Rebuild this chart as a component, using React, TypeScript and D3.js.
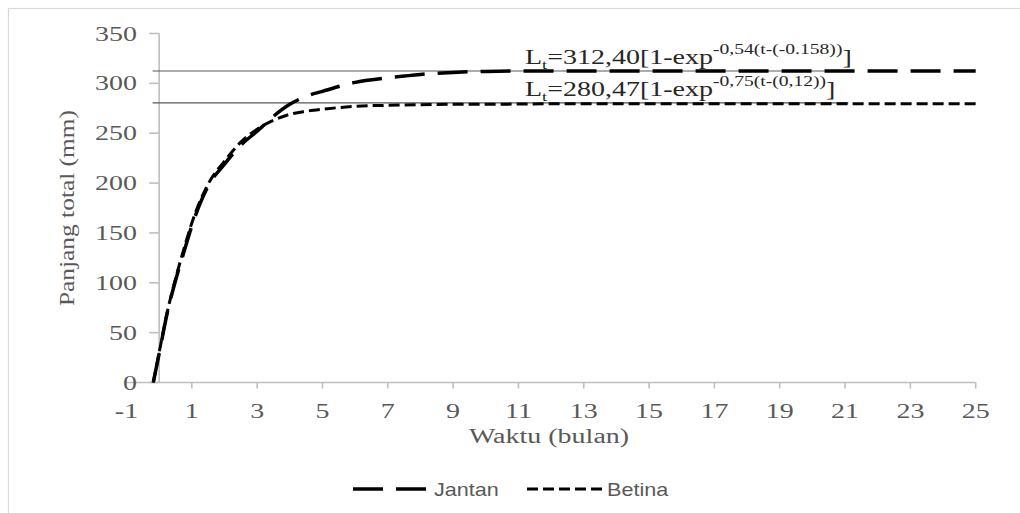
import * as d3 from 'd3'

// Growth curve readings (months vs total length, mm)
const MONTHS = [-0.18, 0, 0.25, 0.5, 0.75, 1, 1.5, 2, 2.5, 3, 3.5, 4, 4.5, 5, 6, 7, 8, 9, 10, 12, 15, 20, 25]
const JANTAN = [0, 29, 70, 102, 130, 157, 197, 219, 238, 252, 267, 279, 287, 292, 301, 305.5, 309, 311, 312, 312.5, 312.5, 312.5, 312.5]
const BETINA = [0, 30, 71, 104, 133, 160, 199, 222, 241, 254, 263, 269, 272, 274, 277, 278, 278.5, 279, 279, 279.5, 279.5, 279.5, 279.5]

const X_TICKS = [-1, 1, 3, 5, 7, 9, 11, 13, 15, 17, 19, 21, 23, 25]
const Y_TICKS = [0, 50, 100, 150, 200, 250, 300, 350]

// asymptote lines (L infinity) and their equations
const ASYMPTOTES = [312.4, 280.47]
const ASYM_FROM = -0.2
const ASYM_TO = 21.1
const EQ_MAIN = ['=312,40[1-exp', '=280,47[1-exp']
const EQ_EXP = ['-0,54(t-(-0.158))', '-0,75(t-(0,12))']
const EQ_START = 11.2

const SERIES = [
  { name: 'Jantan', values: JANTAN, dash: '30,13', width: 3.5 },
  { name: 'Betina', values: BETINA, dash: '11,5', width: 3 },
]

const SERIF = "'Liberation Serif', 'Times New Roman', serif"
const SANS = "'Liberation Sans', Arial, sans-serif"
const AXIS = '#bfbfbf'
const LABEL = '#595959'
const SX = 1.4 // wide serif rendering in the original

export default function App() {
  const x = d3.scaleLinear().domain([-1, 25]).range([126.5, 975.7])
  const y = d3.scaleLinear().domain([0, 350]).range([382.5, 33.5])

  const line = d3.line<number>()
    .x((_, i) => x(MONTHS[i]))
    .y(d => y(d))
    .curve(d3.curveMonotoneX)

  const legend = [
    { x1: 353, x2: 428, tx: 434 },
    { x1: 527, x2: 604, tx: 607 },
  ]

  return (
    <div style={{ position: 'absolute', left: 0, top: 0 }}>
      <svg width={1020} height={513} style={{ display: 'block', background: '#fff' }}>
        {/* chart border */}
        <rect x={8.5} y={8.5} width={1040} height={540} fill="none" stroke="#d9d9d9" strokeWidth={1.2} />

        {/* axes */}
        <line x1={x(0)} x2={x(0)} y1={y(0)} y2={y(350)} stroke={AXIS} strokeWidth={1.6} />
        <line x1={x(-1)} x2={x(25)} y1={y(0)} y2={y(0)} stroke={AXIS} strokeWidth={1.6} />
        {Y_TICKS.map(t => (
          <g key={'y' + t}>
            <line x1={x(0) - 10} x2={x(0)} y1={y(t)} y2={y(t)} stroke={AXIS} strokeWidth={1.6} />
            <text transform={`translate(137,${y(t) + 7}) scale(${SX},1)`} textAnchor="end"
              fontFamily={SERIF} fontSize={20} fill={LABEL}>{t}</text>
          </g>
        ))}
        {X_TICKS.map(t => (
          <g key={'x' + t}>
            {t > -1 && <line x1={x(t)} x2={x(t)} y1={y(0)} y2={y(0) + 6} stroke={AXIS} strokeWidth={1.6} />}
            <text transform={`translate(${x(t)},418) scale(${SX},1)`} textAnchor="middle"
              fontFamily={SERIF} fontSize={20} fill={LABEL}>{t}</text>
          </g>
        ))}

        {/* axis titles */}
        <text transform={`translate(549,443) scale(${SX},1)`} textAnchor="middle"
          fontFamily={SERIF} fontSize={20} fill={LABEL}>Waktu (bulan)</text>
        <text transform={`translate(74,208) rotate(-90) scale(1.27,1)`} textAnchor="middle"
          fontFamily={SERIF} fontSize={20} fill={LABEL}>Panjang total (mm)</text>

        {/* asymptotes */}
        {ASYMPTOTES.map(a => (
          <line key={'a' + a} x1={x(ASYM_FROM)} x2={x(ASYM_TO)} y1={y(a)} y2={y(a)}
            stroke="#595959" strokeWidth={1.2} />
        ))}

        {/* curves */}
        {SERIES.map(s => (
          <path key={s.name} d={line(s.values) ?? ''} fill="none" stroke="#000"
            strokeWidth={s.width} strokeDasharray={s.dash} />
        ))}

        {/* equations */}
        {ASYMPTOTES.map((a, i) => (
          <text key={'eq' + i} transform={`translate(${x(EQ_START)},${y(a) - 7}) scale(${SX},1)`}
            fontFamily={SERIF} fontSize={20} fill="#262626">
            <tspan>L</tspan>
            <tspan fontSize={13} dy={5}>t</tspan>
            <tspan dy={-5}>{EQ_MAIN[i]}</tspan>
            <tspan fontSize={14} dy={-10}>{EQ_EXP[i]}</tspan>
            <tspan dy={10}>]</tspan>
          </text>
        ))}

        {/* legend */}
        {SERIES.map((s, i) => (
          <g key={'lg' + s.name}>
            <line x1={legend[i].x1} x2={legend[i].x2} y1={489} y2={489} stroke="#000"
              strokeWidth={s.width} strokeDasharray={s.dash} />
            <text transform={`translate(${legend[i].tx},496) scale(1.2,1)`} fontFamily={SANS}
              fontSize={18} fill={LABEL}>{s.name}</text>
          </g>
        ))}
      </svg>
    </div>
  )
}
